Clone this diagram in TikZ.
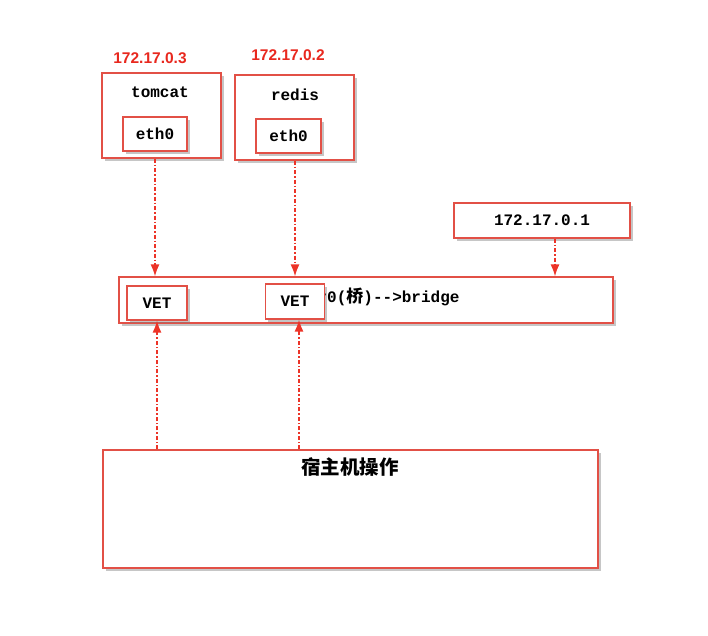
\documentclass[tikz,border=0pt]{standalone}
\usepackage{fontspec}
\setmonofont{Liberation Mono}
\newfontfamily\cjk{Noto Sans CJK SC}
\newfontfamily\ipfont{Liberation Sans}
\usetikzlibrary{arrows.meta,shadows}
\definecolor{boxred}{RGB}{226,80,70}
\definecolor{linkred}{RGB}{236,52,40}
\definecolor{ipred}{RGB}{232,40,30}
\tikzset{
	box/.style={draw=boxred, line width=1.2pt, fill=white, inner sep=0pt,
		drop shadow={opacity=0.45, shadow xshift=2.5pt, shadow yshift=-2.5pt}},
	txt/.style={font=\ttfamily\bfseries\fontsize{16}{19}\selectfont},
	iplabel/.style={font=\ipfont\bfseries\fontsize{15.5}{18}\selectfont, text=ipred},
	link/.style={draw=linkred, line width=1.6pt, ->,
		dash pattern=on 4pt off 2pt on 1.5pt off 2pt}
}
\begin{document}
\begin{tikzpicture}[x=1pt,y=-1pt,>={Latex[length=12pt,width=9pt]}]
	\useasboundingbox (0,0) rectangle (708,635);
	%Containers
	\node [box, minimum width=119, minimum height=85] (tomcat) at (161.5,115.5) {};
	\node [txt] (tomcatname) at (160,92) {tomcat};
	\node [box, txt, minimum width=64, minimum height=34] (ethA) at (155,134) {eth0};
	\node [iplabel] (ipA) at (150,58) {172.17.0.3};
	\node [box, minimum width=119, minimum height=85] (redis) at (294.5,117.5) {};
	\node [txt] (redisname) at (295,95) {redis};
	\node [box, txt, minimum width=65, minimum height=34] (ethB) at (288.5,136) {eth0};
	\node [iplabel] (ipB) at (288,55) {172.17.0.2};
	%Gateway
	\node [box, txt, minimum width=176, minimum height=35] (gw) at (542,220.5) {172.17.0.1};
	%Bridge
	\node [box, minimum width=494, minimum height=46] (bridge) at (366,300) {};
	\node [txt, anchor=east] (bridgename) at (463,297)
		{docker0({\cjk\bfseries\fontsize{17}{19}\selectfont 桥})-->bridge};
	\node [box, txt, minimum width=60, minimum height=34] (vetA) at (157,303) {VET};
	\node [box, txt, minimum width=59, minimum height=35] (vetB) at (295,301.5) {VET};
	%Host
	\node [box, minimum width=495, minimum height=118] (host) at (350.5,509) {};
	\node [font=\cjk\bfseries\fontsize{19.5}{22}\selectfont] (hostname) at (350,467) {宿主机操作};
	%Links
	\draw [link] (ethA.south |- tomcat.south) -- (ethA.south |- bridge.north);
	\draw [link] (vetB.south |- redis.south) -- (vetB.north |- bridge.north);
	\draw [link] ([xshift=13pt]gw.south) -- ([xshift=13pt]gw.south |- bridge.north);
	\draw [link] (vetA |- host.north) -- (vetA.south);
	\draw [link] ([xshift=4pt]vetB.south |- host.north) -- ([xshift=4pt]vetB.south);
\end{tikzpicture}
\end{document}
